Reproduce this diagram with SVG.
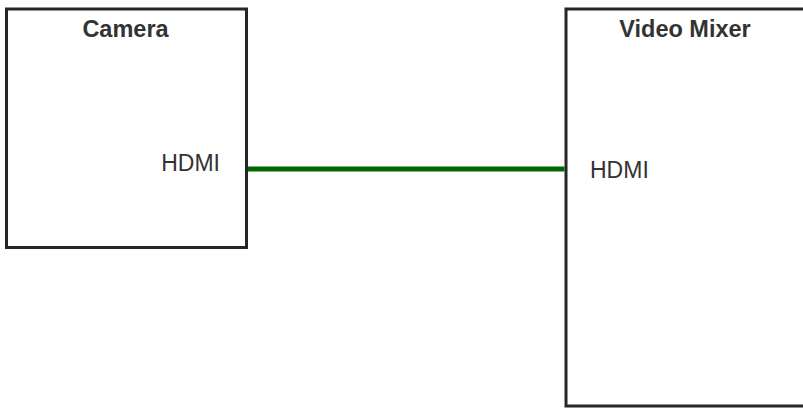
<svg xmlns="http://www.w3.org/2000/svg" width="803" height="408" viewBox="0 0 803 408">
<style>
.box{fill:#ffffff;stroke:#262626;stroke-width:3}
.title{font-family:"Liberation Sans",Arial,sans-serif;font-size:23.5px;font-weight:bold;fill:#333333;text-anchor:middle}
.port{font-family:"Liberation Sans",Arial,sans-serif;font-size:23px;fill:#333333}
.link{stroke:#006600;stroke-width:5;fill:none}
</style>
<rect width="803" height="408" fill="#ffffff"/>
<g id="camera">
<rect class="box" x="6.5" y="9" width="240" height="238.5"/>
<text class="title" x="125.5" y="37.3">Camera</text>
<text class="port" x="220" y="170.7" text-anchor="end">HDMI</text>
</g>
<g id="video-mixer">
<rect class="box" x="566" y="9" width="240" height="397"/>
<text class="title" x="685" y="37.3">Video Mixer</text>
<text class="port" x="590" y="178.3">HDMI</text>
</g>
<g id="connectors">
<line class="link" x1="248" y1="169" x2="564.5" y2="169"/>
</g>
</svg>
